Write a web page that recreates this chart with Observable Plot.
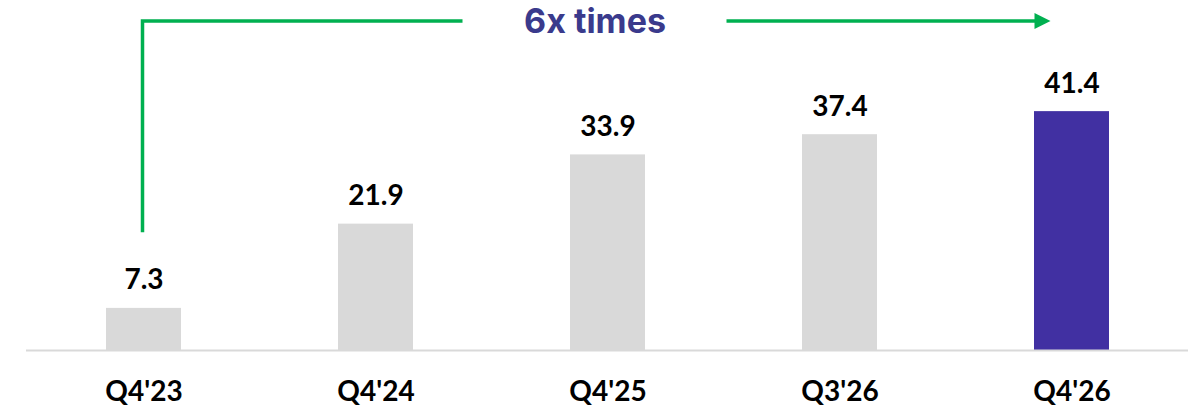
<!DOCTYPE html>
<html>
<head>
<meta charset="utf-8">
<script src="https://cdn.jsdelivr.net/npm/d3@7"></script>
<script src="https://cdn.jsdelivr.net/npm/@observablehq/plot@0.6"></script>
<style>
  html, body { margin: 0; padding: 0; background: #ffffff; }
  #chart svg { display: block; }
</style>
</head>
<body>
<div id="chart"></div>
<script>
const quarters = ["Q4'23", "Q4'24", "Q4'25", "Q3'26", "Q4'26"];
const values = [7.3, 21.9, 33.9, 37.4, 41.4];
const highlight = ["Q4'26"];
const annotationText = "6x times";
const annotationFrom = "Q4'23";
const annotationTo = "Q4'26";
const annotationTop = 57;      // y value of the bracket line
const annotationStart = 20.4;  // y value where the vertical line begins

const data = quarters.map((q, i) => ({ quarter: q, value: values[i] }));

const fontFamily = "Lato, 'Open Sans', sans-serif";

const chart = Plot.plot({
  width: 1191,
  height: 411,
  marginLeft: 26,
  marginRight: 3,
  marginTop: 0,
  marginBottom: 61,
  style: { fontFamily, background: "#ffffff", overflow: "visible" },
  x: { domain: quarters, paddingInner: 0.677, paddingOuter: 0.336, label: null },
  y: { domain: [0, 60.66], axis: null },
  marks: [
    Plot.barY(data, {
      x: "quarter",
      y: "value",
      fill: d => highlight.includes(d.quarter) ? "#4130A2" : "#D9D9D9"
    }),
    Plot.ruleY([0], { stroke: "#D9D9D9", strokeWidth: 2 }),
    Plot.text(data, {
      x: "quarter",
      y: "value",
      text: d => d.value.toFixed(1),
      lineAnchor: "bottom",
      dy: -19,
      fontSize: 28,
      fontWeight: 700,
      fill: "#000000"
    }),
    Plot.axisX({
      tickSize: 0,
      tickPadding: 31,
      fontSize: 28,
      fontWeight: 700,
      fill: "#000000",
      label: null
    }),
    Plot.text([annotationText], {
      x: () => "Q4'25",
      y: () => annotationTop,
      text: d => d,
      dx: -13,
      fontSize: 34,
      fontWeight: 700,
      fontFamily: "Inter, 'Noto Sans', sans-serif",
      fill: "#3A3A8C"
    })
  ]
});

document.getElementById("chart").appendChild(chart);

// Bracket arrow drawn with the plot's own scales
const xs = chart.scale("x");
const ys = chart.scale("y");
const center = q => xs.apply(q) + xs.bandwidth / 2;
const x0 = center(annotationFrom) - 1;
const xText = center("Q4'25") - 13;
const gapHalf = 132;
const xTip = center(annotationTo) - 21;
const yTop = ys.apply(annotationTop);
const yStart = ys.apply(annotationStart);
const green = "#00B050";
const svg = d3.select(chart);
const g = svg.append("g").attr("fill", "none").attr("stroke", green).attr("stroke-width", 3.5);
g.append("path").attr("d", `M${x0},${yStart}V${yTop}H${xText - gapHalf}`);
g.append("path").attr("d", `M${xText + gapHalf},${yTop}H${xTip - 14}`);
svg.append("path")
  .attr("fill", green)
  .attr("d", `M${xTip - 16},${yTop - 8}L${xTip},${yTop}L${xTip - 16},${yTop + 8}Z`);
</script>
</body>
</html>
